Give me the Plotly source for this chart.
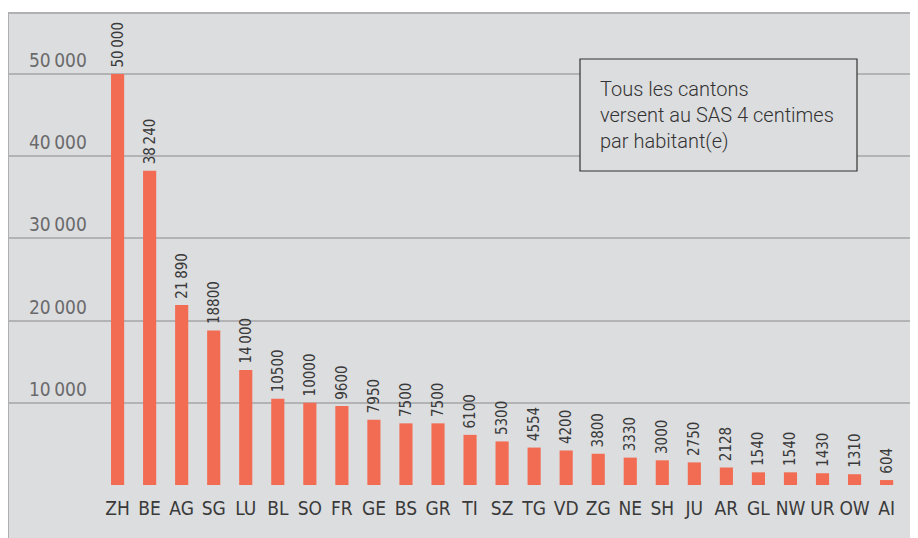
import plotly.graph_objects as go

cantons = ["ZH", "BE", "AG", "SG", "LU", "BL", "SO", "FR", "GE", "BS", "GR", "TI",
           "SZ", "TG", "VD", "ZG", "NE", "SH", "JU", "AR", "GL", "NW", "UR", "OW", "AI"]
values = [50000, 38240, 21890, 18800, 14000, 10500, 10000, 9600, 7950, 7500, 7500, 6100,
          5300, 4554, 4200, 3800, 3330, 3000, 2750, 2128, 1540, 1540, 1430, 1310, 604]
value_labels = ["50\u2009000", "38\u2009240", "21\u2009890", "18800", "14\u2009000", "10500",
                "10000", "9600", "7950", "7500", "7500", "6100", "5300", "4554", "4200",
                "3800", "3330", "3000", "2750", "2128", "1540", "1540", "1430", "1310", "604"]
y_ticks = [10000, 20000, 30000, 40000, 50000]
y_tick_labels = ["10\u2009000", "20\u2009000", "30\u2009000", "40\u2009000", "50\u2009000"]
note_lines = ["Tous les cantons", "versent au SAS 4 centimes", "par habitant(e)"]

FONT = "DejaVu Sans Condensed, sans-serif"
BG = "#dcdddf"
BAR = "#f26c53"

# page body has an 8px margin: figure occupies page x 8..918, y 8..538
OFF = 8
W, H = 918 - OFF, 538 - OFF
ml, mt, mb = 8 - OFF, 13 - OFF, 53
plot_w = W - ml
plot_h = H - mt - mb

fig = go.Figure(go.Bar(
    x=cantons, y=values, text=["\u2005" + t for t in value_labels],
    textposition="outside", textangle=-90, constraintext="none", cliponaxis=False,
    textfont=dict(family=FONT, size=15, color="#3a3a3a"),
    marker=dict(color=BAR, line=dict(width=0)),
    width=0.41,
))

fig.update_layout(
    width=W, height=H,
    margin=dict(l=ml, r=0, t=mt, b=mb, pad=0, autoexpand=False),
    paper_bgcolor="white", plot_bgcolor="rgba(0,0,0,0)",
    showlegend=False,
    xaxis=dict(range=[-3.42, 24.98], showgrid=False, zeroline=False, showline=False,
               ticks="", tickfont=dict(family=FONT, size=19, color="#3a3a3a"),
               ticklabelstandoff=10, fixedrange=True, automargin=False),
    yaxis=dict(range=[0, 57420], tickvals=[0] + y_ticks, showticklabels=False,
               showgrid=True, gridcolor="#b3b3b5", gridwidth=1.5, zeroline=False,
               showline=False, fixedrange=True, automargin=False),
)


def px(x):
    return (x - OFF - ml) / plot_w


def py(y):
    return (H - mb - (y - OFF)) / plot_h


# grey panel with left/top border
fig.add_shape(type="rect", xref="paper", yref="paper", x0=0, x1=1.01,
              y0=-mb / plot_h - 0.01, y1=1, fillcolor=BG, line=dict(width=0), layer="below")
fig.add_shape(type="line", xref="paper", yref="paper", x0=0, x1=0,
              y0=-mb / plot_h - 0.01, y1=1, line=dict(color="#b0b0b2", width=2))
fig.add_shape(type="line", xref="paper", yref="paper", x0=0, x1=1.01,
              y0=1, y1=1, line=dict(color="#b0b0b2", width=2))

# y labels above the gridlines
for v, lab in zip(y_ticks, y_tick_labels):
    fig.add_annotation(x=px(89), xref="paper", y=v, yref="y",
                       text=lab, showarrow=False, xanchor="right", yanchor="bottom",
                       yshift=1, font=dict(family=FONT, size=19, color="#6a6a6c"))

# note box
bx0, bx1, by0, by1 = 580, 857, 59, 171
fig.add_shape(type="rect", xref="paper", yref="paper", x0=px(bx0), x1=px(bx1),
              y0=py(by1), y1=py(by0), fillcolor=BG, line=dict(color="#333333", width=1.2),
              layer="above")
for i, line in enumerate(note_lines):
    fig.add_annotation(x=px(598), xref="paper", y=py(89 + 26 * i), yref="paper",
                       text=line, showarrow=False, xanchor="left", yanchor="middle",
                       font=dict(family="Roboto, sans-serif", size=20, weight=300,
                                 color="#333333"))

fig.write_html("out.html")
